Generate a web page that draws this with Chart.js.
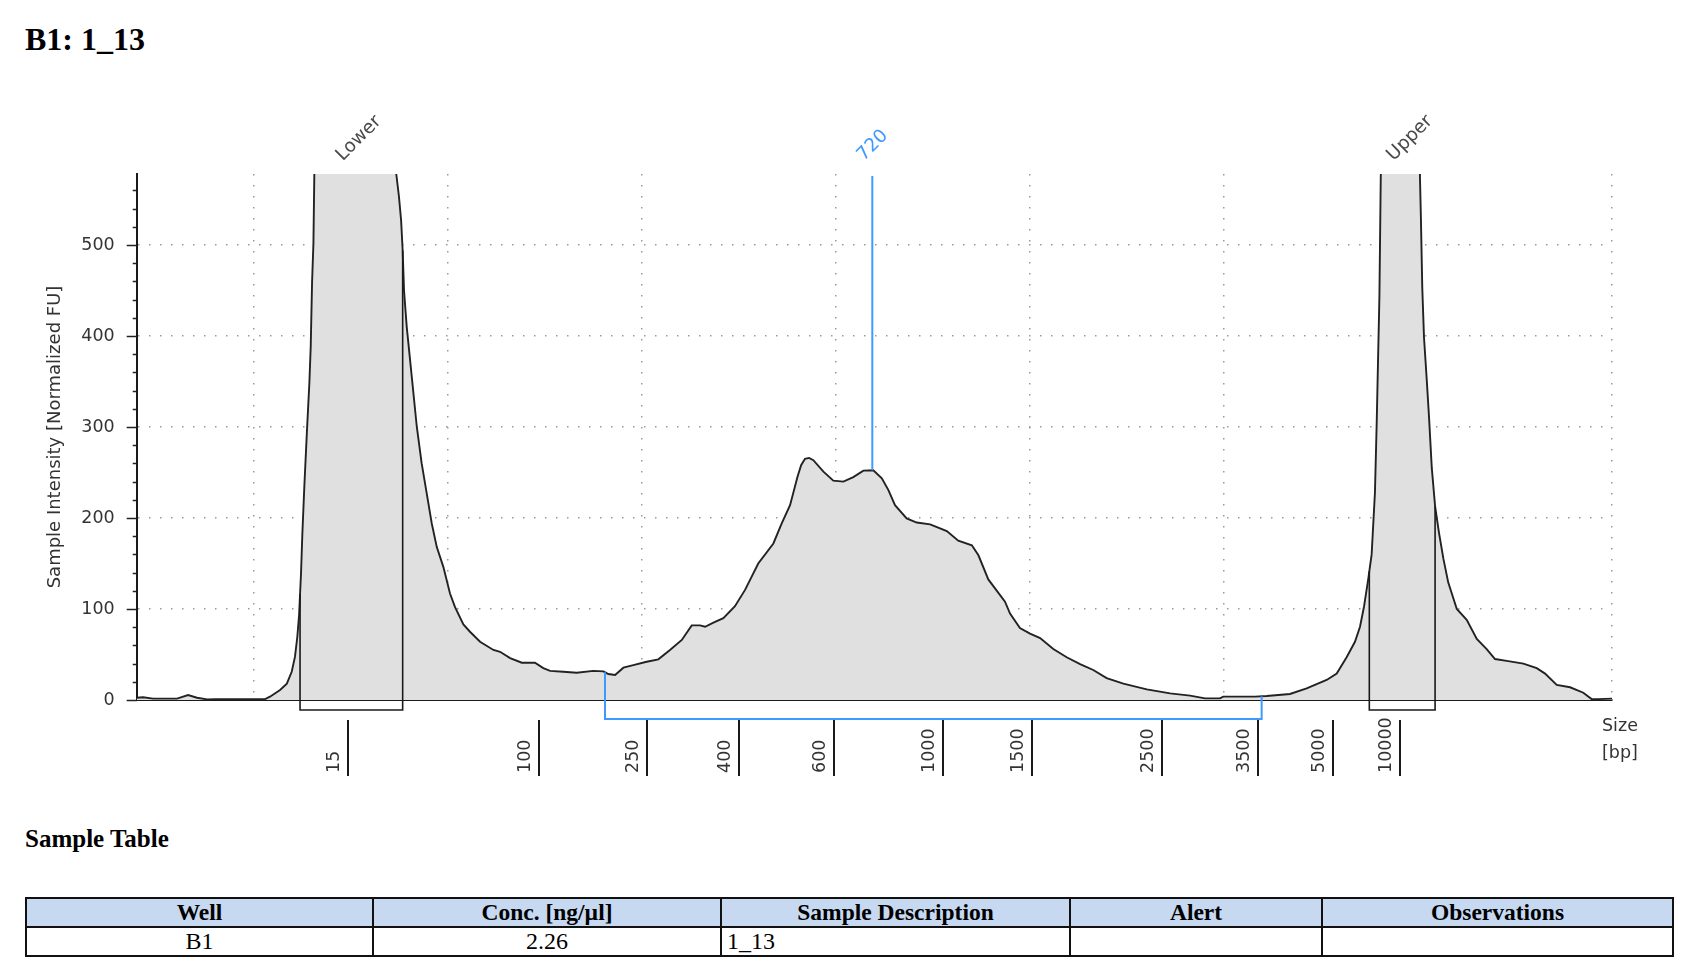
<!DOCTYPE html>
<html><head><meta charset="utf-8">
<script src="https://cdn.jsdelivr.net/npm/chart.js@4.4.1/dist/chart.umd.min.js"></script>
<style>
html,body{margin:0;padding:0;background:#fff;width:1684px;height:968px;overflow:hidden;}
#title{position:absolute;left:25px;top:23px;font:bold 32px/32px "Liberation Serif","Times New Roman",serif;color:#000;white-space:nowrap;}
#chartBox{position:absolute;left:0;top:0;width:1684px;height:800px;}
#st{position:absolute;left:25px;top:826px;font:bold 25px/25px "Liberation Serif",serif;white-space:nowrap;}
table{position:absolute;left:25px;top:897px;border-collapse:collapse;table-layout:fixed;width:1649px;font-family:"Liberation Serif","Times New Roman",serif;}
th,td{border:2px solid #111;padding:0;text-align:center;white-space:nowrap;}
th{background:#c6d9f1;height:27px;font-size:23.5px;font-weight:bold;line-height:27px;}
td{height:27px;font-size:24px;line-height:27px;}
td.l{text-align:left;padding-left:5px;}
td.g{border-left-color:#999;}
</style></head>
<body>
<div id="title">B1: 1_13</div>
<div id="chartBox"><canvas id="c" width="1684" height="800"></canvas></div>
<div id="st">Sample Table</div>
<table>
<colgroup><col style="width:347px"><col style="width:348px"><col style="width:349px"><col style="width:252px"><col style="width:351px"></colgroup>
<tr><th>Well</th><th>Conc. [ng/µl]</th><th>Sample Description</th><th>Alert</th><th>Observations</th></tr>
<tr><td>B1</td><td>2.26</td><td class="l">1_13</td><td></td><td class="g"></td></tr>
</table>
<script>
// ---- data (migration position in arbitrary units; intensity in normalized FU) ----
const migration = [39.5, 42.8, 47.9, 60.3, 66.0, 70.6, 75.8, 79.9, 92.8, 100.5, 105.7, 108.2, 113.4, 116.9, 119.4, 121.1, 122.3, 123.2, 124.2, 124.9, 125.9, 127.2, 128.5, 129.2, 129.9, 130.6, 131.2, 150.5, 172.4, 173.2, 174.7, 175.8, 176.6, 177.3, 178.7, 181.3, 183.9, 186.4, 189.0, 191.6, 194.2, 197.6, 201.0, 203.6, 207.9, 211.3, 216.5, 223.4, 226.8, 232.0, 238.0, 244.8, 249.1, 252.6, 259.4, 266.3, 274.9, 280.1, 282.6, 286.1, 290.4, 295.5, 302.4, 308.4, 314.4, 320.5, 325.6, 329.9, 332.5, 336.8, 341.9, 347.9, 353.1, 359.9, 367.7, 372.0, 376.3, 380.1, 382.0, 384.0, 386.1, 388.3, 393.5, 398.6, 403.8, 408.9, 414.1, 419.2, 423.6, 427.0, 430.4, 436.4, 441.6, 448.5, 457.1, 463.0, 470.0, 473.4, 478.5, 487.1, 489.7, 494.8, 500.0, 505.2, 512.0, 518.9, 525.8, 532.6, 539.5, 548.1, 560.2, 572.2, 582.5, 590.2, 597.9, 599.6, 616.0, 622.0, 634.0, 642.6, 652.9, 658.1, 663.2, 667.5, 670.1, 672.2, 674.4, 676.1, 677.8, 678.7, 680.1, 680.8, 681.2, 690.7, 700.8, 701.0, 701.5, 702.2, 703.1, 704.5, 705.7, 707.1, 708.8, 710.8, 713.1, 715.6, 720.0, 725.1, 730.3, 735.4, 739.7, 745.7, 754.3, 761.2, 765.5, 771.5, 778.4, 785.2, 789.5, 792.8, 800.0];
const intensity = [2.5, 3, 1.5, 1.5, 5.5, 2.5, 0.7, 1, 1, 1, 1, 3.6, 11, 18, 31, 47.6, 69.5, 93, 139, 183, 234, 293, 348, 388, 459, 502, 600, 1250, 600, 580, 553, 527, 494, 450, 410, 355, 300, 260, 227, 194, 168, 146, 117, 102, 83, 75, 64, 55, 53, 46, 41, 41, 35, 32, 31, 30, 32, 31.5, 28.5, 27.5, 35.5, 38.4, 42, 44.7, 55, 66, 82, 82, 80.5, 85, 90, 103, 121, 150, 172, 194, 214, 245, 258, 265, 266, 263.5, 251, 241, 240, 245, 252, 252.5, 243.5, 230.6, 214, 199.5, 195, 193, 185.6, 175, 170, 159, 132.5, 108, 95, 79, 73, 68, 56, 47, 39.5, 33, 24, 18, 11.7, 7.3, 4.8, 1.8, 1.8, 3.7, 3.7, 4.4, 6.6, 12.8, 22, 29, 47, 64, 80.5, 103, 133.6, 160, 228, 304, 443, 575, 600, 1100, 600, 575, 529, 453, 398, 352, 310, 255, 213, 184, 155, 129, 100, 88, 67, 56, 45, 43, 40, 35, 29, 16.5, 14, 8, 1, 1, 1.5];

// ladder (size axis) tick labels and their migration positions
const ladderSizes = ['15', '100', '250', '400', '600', '1000', '1500', '2500', '3500', '5000', '10000'];
const ladderPos = [148.6, 247.1, 302.8, 349.8, 398.9, 455.1, 500.9, 567.9, 617.7, 656.0, 690.7];
const gridPositions = [100, 200, 300, 400, 500, 600, 700, 800];
const yTickValues = [0, 100, 200, 300, 400, 500];

// markers
const markerNames = ['Lower', 'Upper'];
const markerStart = [123.7, 674.9];
const markerEnd = [176.6, 708.8];
const regionStart = [280.9];
const regionEnd = [619.4];
const peakLabels = ['720'];
const peakPos = [418.7];

const X_MIN = 39.5, X_MAX = 800, Y_MAX = 578;

function traceAt(p) {
  for (let i = 1; i < migration.length; i++) {
    if (p <= migration[i]) {
      const t = (p - migration[i - 1]) / (migration[i] - migration[i - 1]);
      return intensity[i - 1] + t * (intensity[i] - intensity[i - 1]);
    }
  }
  return intensity[intensity.length - 1];
}

Chart.defaults.font.family = '"DejaVu Sans", sans-serif';

const overlay = {
  id: 'overlay',
  afterDraw(chart) {
    const {ctx, chartArea: a, scales: {x, y}} = chart;
    const X = v => x.getPixelForValue(v);
    const Y = v => y.getPixelForValue(Math.min(v, Y_MAX));
    const base = y.getPixelForValue(0);
    ctx.save();
    // y axis tick marks (major + minor)
    ctx.strokeStyle = '#222';
    ctx.lineWidth = 1.5;
    for (let v = 0; v <= 560; v += 20) {
      const len = (v % 100 === 0) ? 10 : 4;
      const py = Math.round(y.getPixelForValue(v)) + 0.5;
      ctx.beginPath(); ctx.moveTo(a.left - len, py); ctx.lineTo(a.left, py); ctx.stroke();
    }
    // marker boxes
    ctx.strokeStyle = '#1a1a1a';
    ctx.lineWidth = 1.6;
    for (let i = 0; i < markerNames.length; i++) {
      const x1 = X(markerStart[i]), x2 = X(markerEnd[i]), yb = base + 10;
      ctx.beginPath();
      ctx.moveTo(x1, Y(traceAt(markerStart[i])));
      ctx.lineTo(x1, yb); ctx.lineTo(x2, yb);
      ctx.lineTo(x2, Y(traceAt(markerEnd[i])));
      ctx.stroke();
    }
    // smear region bracket
    ctx.strokeStyle = '#3d9bff';
    ctx.lineWidth = 2;
    for (let i = 0; i < regionStart.length; i++) {
      const x1 = X(regionStart[i]), x2 = X(regionEnd[i]), yb = base + 19;
      ctx.beginPath();
      ctx.moveTo(x1, Y(traceAt(regionStart[i])));
      ctx.lineTo(x1, yb); ctx.lineTo(x2, yb);
      ctx.lineTo(x2, Y(traceAt(regionEnd[i])));
      ctx.stroke();
    }
    // peak line
    for (let i = 0; i < peakPos.length; i++) {
      const px = X(peakPos[i]);
      ctx.beginPath(); ctx.moveTo(px, Y(traceAt(peakPos[i]))); ctx.lineTo(px, a.top + 2); ctx.stroke();
    }
    // diagonal labels
    const diag = (text, px, color) => {
      ctx.save();
      ctx.translate(px - 12, a.top - 16);
      ctx.rotate(-Math.PI / 4);
      ctx.fillStyle = color;
      ctx.font = '18.5px "DejaVu Sans"';
      ctx.textAlign = 'left'; ctx.textBaseline = 'middle';
      ctx.fillText(text, 0, 0);
      ctx.restore();
    };
    for (let i = 0; i < markerNames.length; i++) diag(markerNames[i], (X(markerStart[i]) + X(markerEnd[i])) / 2, '#4a4a4a');
    for (let i = 0; i < peakPos.length; i++) diag(peakLabels[i], X(peakPos[i]), '#3d9bff');
    // ladder ticks and labels
    ctx.strokeStyle = '#1a1a1a';
    ctx.lineWidth = 2;
    ctx.fillStyle = '#333';
    ctx.font = '17.5px "DejaVu Sans"';
    for (let i = 0; i < ladderPos.length; i++) {
      const px = Math.round(X(ladderPos[i]));
      ctx.beginPath(); ctx.moveTo(px, base + 20); ctx.lineTo(px, base + 76); ctx.stroke();
      ctx.save();
      ctx.translate(px - 9, base + 73);
      ctx.rotate(-Math.PI / 2);
      ctx.textAlign = 'left'; ctx.textBaseline = 'alphabetic';
      ctx.fillText(ladderSizes[i], 0, 0);
      ctx.restore();
    }
    // axis unit label
    ctx.textAlign = 'left'; ctx.textBaseline = 'middle';
    ctx.fillText('Size', a.right - 10, base + 26);
    ctx.fillText('[bp]', a.right - 10, base + 53);
    ctx.restore();
  }
};

new Chart(document.getElementById('c'), {
  type: 'line',
  data: {
    datasets: [{
      data: migration.map((m, i) => ({x: m, y: intensity[i]})),
      borderColor: '#222',
      borderWidth: 1.9,
      backgroundColor: '#e0e0e0',
      fill: 'origin',
      pointRadius: 0,
      tension: 0
    }]
  },
  options: {
    responsive: false,
    animation: false,
    devicePixelRatio: 1,
    layout: {padding: {top: 174, right: 72, left: 0, bottom: 0}},
    plugins: {legend: {display: false}, tooltip: {enabled: false}},
    scales: {
      x: {
        type: 'linear', min: X_MIN, max: X_MAX, z: 1,
        afterBuildTicks: s => { s.ticks = gridPositions.map(v => ({value: v})); },
        afterFit: s => { s.height = 100; },
        ticks: {display: false},
        grid: {color: '#9a9a9a', lineWidth: 1.5, drawTicks: false},
        border: {display: true, color: '#1a1a1a', width: 2, dash: [1.5, 9.5]}
      },
      y: {
        type: 'linear', min: 0, max: Y_MAX, z: 1,
        afterBuildTicks: s => { s.ticks = yTickValues.map(v => ({value: v})); },
        afterFit: s => { s.width = 136.7; },
        ticks: {padding: 22, color: '#333', font: {size: 17.5}},
        grid: {color: '#9a9a9a', lineWidth: 1.5, drawTicks: false},
        border: {display: true, color: '#1a1a1a', width: 2, dash: [1.5, 9.5]},
        title: {display: true, text: 'Sample Intensity [Normalized FU]', color: '#333', font: {size: 18}, padding: {top: 45, bottom: 0}}
      }
    }
  },
  plugins: [overlay]
});
</script>
</body></html>
